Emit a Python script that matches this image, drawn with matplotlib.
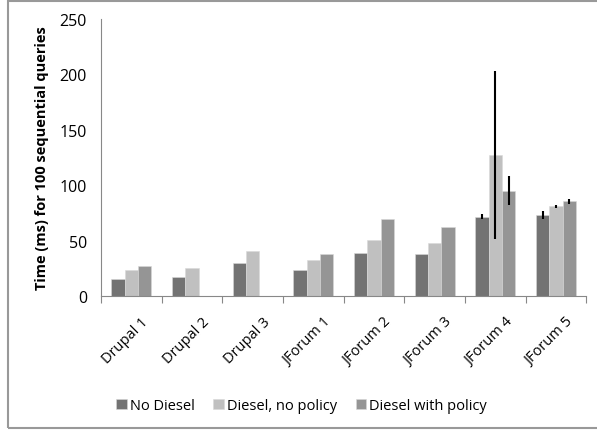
import matplotlib
matplotlib.use("Agg")
import matplotlib.pyplot as plt
from matplotlib.patches import Rectangle
import numpy as np

categories = ["Drupal 1", "Drupal 2", "Drupal 3", "JForum 1", "JForum 2", "JForum 3", "JForum 4", "JForum 5"]
series_names = ["No Diesel", "Diesel, no policy", "Diesel with policy"]
no_diesel = [15.7, 17.5, 29.5, 23.2, 39.2, 38.3, 71.5, 73.0]
diesel_no_policy = [23.8, 25.3, 40.4, 32.3, 50.6, 47.6, 127.1, 80.8]
diesel_with_policy = [27.1, 0, 0, 37.7, 69.3, 61.8, 95.0, 85.3]
err_no_diesel = [0, 0, 0, 0, 0, 0, 2.0, 4.0]
err_diesel_no_policy = [0, 0, 0, 0, 0, 0, 76.0, 1.5]
err_diesel_with_policy = [0, 0, 0, 0, 0, 0, 13.0, 2.5]
yticks = [0, 50, 100, 150, 200, 250]

colors = ["#737373", "#c0c0c0", "#959595"]

plt.rcParams['font.family'] = ['Open Sans', 'DejaVu Sans']

fig = plt.figure(figsize=(5.97, 4.31), dpi=100)
ax = fig.add_axes([0.169, 0.311, 0.813, 0.643])

x = np.arange(len(categories))
w = 0.22
data = [no_diesel, diesel_no_policy, diesel_with_policy]
errs = [err_no_diesel, err_diesel_no_policy, err_diesel_with_policy]
for i, (vals, e, c, name) in enumerate(zip(data, errs, colors, series_names)):
    pos = x + (i - 1) * w
    ax.bar(pos, vals, width=w, color=c, edgecolor="#d8d8d8", linewidth=0.4, label=name, zorder=2)
    idx = [k for k in range(len(vals)) if e[k] > 0]
    ax.errorbar(pos[idx], np.array(vals)[idx], yerr=np.array(e)[idx], fmt="none",
                ecolor="black", elinewidth=1.5, capsize=0, zorder=3)

ax.set_xlim(-0.5, len(categories) - 0.5)
ax.set_ylim(0, 250)
ax.set_yticks(yticks)
ax.set_xticks(np.arange(len(categories) + 1) - 0.5, minor=False)
ax.set_xticklabels([])
ax.set_xticks(x + 0.16, minor=True)
ax.set_xticklabels(categories, minor=True, rotation=45, ha="right", rotation_mode="anchor", fontsize=10.5)
ax.tick_params(axis="x", which="minor", length=0, pad=13)
ax.tick_params(axis="x", which="major", length=5, color="#888888", direction="out")
ax.tick_params(axis="y", length=0, labelsize=11.5, pad=10)
for s in ["top", "right"]:
    ax.spines[s].set_visible(False)
ax.spines["left"].set_color("#888888")
ax.spines["bottom"].set_color("#888888")
ax.set_ylabel("Time (ms) for 100 sequential queries", fontsize=10.5, fontweight="bold", labelpad=8)

handles, labels = ax.get_legend_handles_labels()
fig.legend(handles, labels, loc="center", bbox_to_anchor=(0.505, 0.056), ncol=3, frameon=False,
           fontsize=10.5, handlelength=0.7, handleheight=0.7, handletextpad=0.2, columnspacing=1.3)

fig.patches.append(Rectangle((8 / 597, 2 / 431), 1.2, 427 / 431, transform=fig.transFigure,
                             fill=False, edgecolor="#999999", linewidth=1.5))

fig.savefig("out.png", dpi=100)
